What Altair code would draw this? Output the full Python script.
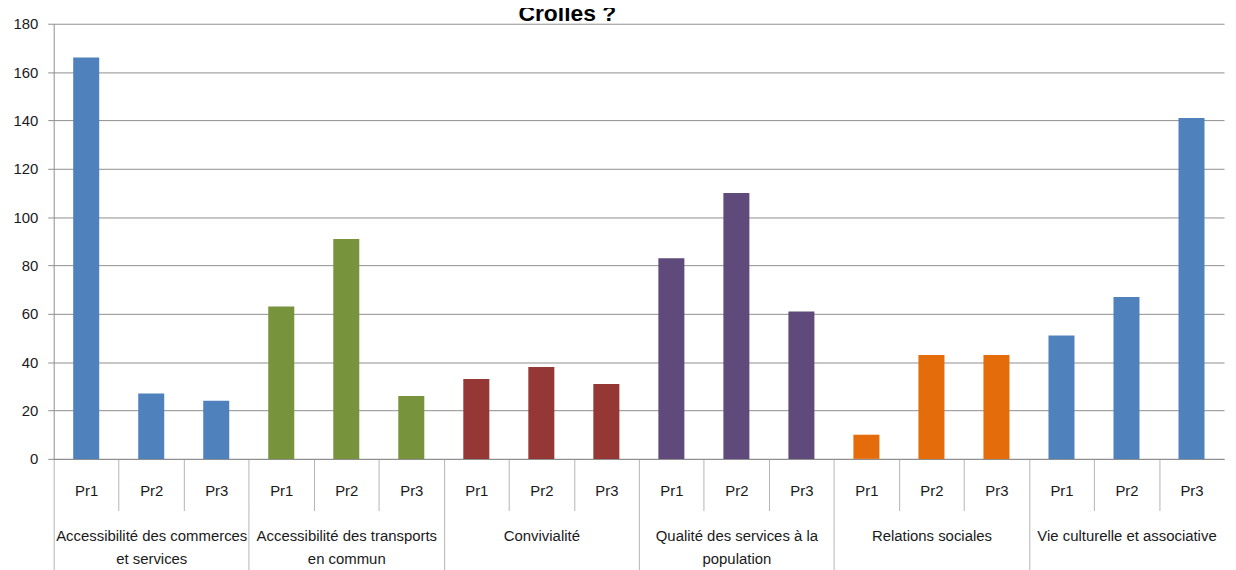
import altair as alt
import pandas as pd

# ---- data ----
groups = [
    "Accessibilité des commerces\net services",
    "Accessibilité des transports\nen commun",
    "Convivialité",
    "Qualité des services à la\npopulation",
    "Relations sociales",
    "Vie culturelle et associative",
]
priorities = ["Pr1", "Pr2", "Pr3"]
v_commerces = [166, 27, 24]
v_transports = [63, 91, 26]
v_convivialite = [33, 38, 31]
v_services = [83, 110, 61]
v_relations = [10, 43, 43]
v_culture = [51, 67, 141]
group_colors = ["#4F81BD", "#77933C", "#953735", "#604A7B", "#E46C0A", "#4F81BD"]
y_ticks = [0, 20, 40, 60, 80, 100, 120, 140, 160, 180]
title_text = "Crolles ?"

series = [v_commerces, v_transports, v_convivialite, v_services, v_relations, v_culture]
rows = []
keys = []
for gi, (g, vals) in enumerate(zip(groups, series)):
    for p, v in zip(priorities, vals):
        k = f"{gi}|{p}"
        keys.append(k)
        rows.append({"key": k, "group": g, "prio": p, "value": v})
df = pd.DataFrame(rows)
gdf = pd.DataFrame({"group": groups})

FONT = "Liberation Sans, Arial, sans-serif"
FS = 15
TXT = "#1a1a1a"
GRID = "#8e8e8e"
SEP = "#b4b4b4"

bars = alt.Chart(df).mark_bar(width=alt.RelativeBandSize(0.4)).encode(
    x=alt.X(
        "key:N",
        sort=keys,
        scale=alt.Scale(paddingInner=0, paddingOuter=0),
        axis=alt.Axis(
            title=None,
            labelExpr="split(datum.label, '|')[1]",
            labelAngle=0,
            tickBand="extent",
            tickSize=52,
            tickColor=alt.condition(f"datum.value === '{keys[-1]}'", alt.value("transparent"), alt.value(SEP)),
            domainColor=GRID,
            labelPadding=-20,
            labelBaseline="middle",
            labelFont=FONT,
            labelFontSize=FS,
            labelColor=TXT,
        ),
    ),
    y=alt.Y(
        "value:Q",
        scale=alt.Scale(domain=[0, 180], nice=False),
        axis=alt.Axis(
            values=y_ticks,
            title=None,
            tickSize=6,
            labelPadding=10,
            gridColor=GRID,
            domainColor=GRID,
            tickColor=GRID,
            labelFont=FONT,
            labelFontSize=FS,
            labelColor=TXT,
        ),
    ),
    color=alt.Color("group:N", scale=alt.Scale(domain=groups, range=group_colors), legend=None),
)

grp = alt.Chart(gdf).mark_rect(opacity=0).encode(
    x=alt.X(
        "group:N",
        sort=groups,
        scale=alt.Scale(paddingInner=0, paddingOuter=0),
        axis=alt.Axis(
            title=None,
            orient="bottom",
            offset=52,
            domain=False,
            tickBand="extent",
            tickSize=60,
            tickColor=alt.condition(f"datum.value === '{groups[-1]}'", alt.value("transparent"), alt.value(SEP)),
            labelExpr="split(datum.label, '\\n')",
            labelAngle=0,
            labelPadding=-30,
            labelBaseline="alphabetic",
            labelLineHeight=23,
            labelLimit=400,
            labelFont=FONT,
            labelFontSize=FS,
            labelColor=TXT,
        ),
    ),
)

title = alt.Chart(pd.DataFrame({"t": [title_text]})).mark_text(
    font=FONT, fontSize=23, fontWeight="bold", baseline="alphabetic", align="center", color="#000000"
).encode(text="t:N", x=alt.value(517), y=alt.value(-3))

chart = (
    alt.layer(bars, grp, title)
    .resolve_scale(x="independent")
    .resolve_axis(x="independent")
    .properties(
        width=1178,
        height=438,
        padding={"left": 46, "top": 14, "right": 4, "bottom": 110},
        autosize=alt.AutoSizeParams(type="none"),
        background="white",
    )
    .configure_view(stroke=None)
)

chart.save("out.html", embed_options={"renderer": "svg", "actions": False})
